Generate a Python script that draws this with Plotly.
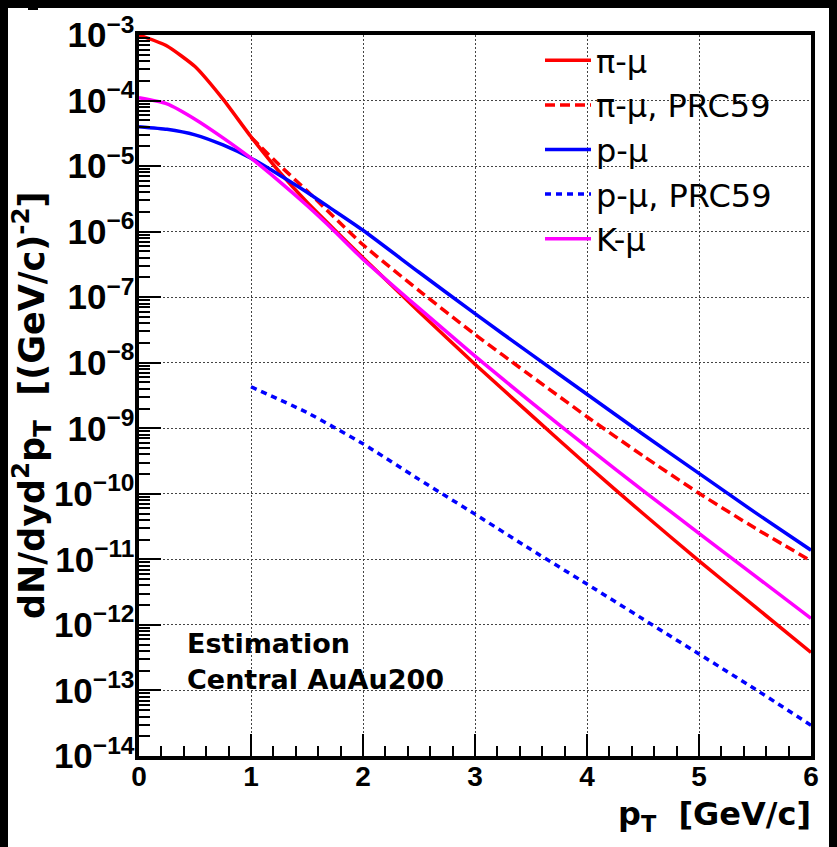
import plotly.graph_objects as go

# ---- data ----
pt_full = [0, 0.25, 0.5, 0.75, 1, 1.25, 1.5, 1.75, 2, 2.5, 3, 3.5, 4, 4.5, 5, 5.5, 6]
pi_mu = [1.0e-3, 6.8e-4, 3.3e-4, 1.05e-4, 2.8e-5, 8.3e-6, 2.8e-6, 1.05e-6, 4.0e-7,
         6.0e-8, 9.5e-9, 1.6e-9, 2.75e-10, 5.0e-11, 9.5e-12, 1.9e-12, 3.8e-13]
k_mu = [1.1e-4, 8.9e-5, 5.2e-5, 2.7e-5, 1.32e-5, 5.9e-6, 2.5e-6, 1.0e-6, 3.8e-7,
        6.8e-8, 1.26e-8, 2.5e-9, 5.2e-10, 1.12e-10, 2.5e-11, 5.6e-12, 1.26e-12]
p_mu = [4.0e-5, 3.65e-5, 3.0e-5, 2.1e-5, 1.32e-5, 7.4e-6, 4.0e-6, 2.05e-6, 1.05e-6,
        2.4e-7, 5.6e-8, 1.35e-8, 3.3e-9, 8.1e-10, 2.05e-10, 5.2e-11, 1.38e-11]

pt_prc_pi = [1, 1.25, 1.5, 2, 2.5, 3, 3.5, 4, 4.5, 5, 5.5, 6]
pi_mu_prc = [2.75e-5, 1.05e-5, 4.2e-6, 6.3e-7, 1.26e-7, 2.7e-8, 6.3e-9, 1.5e-9,
             3.8e-10, 1.02e-10, 3.0e-11, 9.5e-12]
pt_prc_p = [1, 1.5, 2, 2.5, 3, 3.5, 4, 4.5, 5, 5.5, 6]
p_mu_prc = [4.3e-9, 1.74e-9, 5.8e-10, 1.66e-10, 4.9e-11, 1.41e-11, 4.2e-12,
            1.23e-12, 3.6e-13, 1.05e-13, 2.95e-14]

x_ticks = [0, 1, 2, 3, 4, 5, 6]

# ---- figure geometry (page body adds an 8px margin) ----
OFF = 8
W, H = 837 - OFF, 847 - OFF
L, T = 139 - OFF, 35 - OFF
R = W - (811 - OFF)
B = H - (756 - OFF)
pw, ph = W - L - R, H - T - B


def px(rx):  # reference pixel x -> paper x
    return (rx - OFF - L) / pw


def py(ry):  # reference pixel y -> paper y
    return (H - B - (ry - OFF)) / ph


fig = go.Figure()
series = [
    ("π-μ", pt_full, pi_mu, "#ff0000", "solid"),
    ("π-μ, PRC59", pt_prc_pi, pi_mu_prc, "#ff0000", "10px,5px"),
    ("p-μ", pt_full, p_mu, "#0000ff", "solid"),
    ("p-μ, PRC59", pt_prc_p, p_mu_prc, "#0000ff", "6px,5px"),
    ("K-μ", pt_full, k_mu, "#ff00ff", "solid"),
]
for name, xs, ys, col, dash in series:
    fig.add_trace(go.Scatter(
        x=xs, y=ys, name=name, mode="lines",
        line=dict(color=col, width=3.5, dash=dash, shape="spline", smoothing=0.5),
    ))

tickfont = dict(family="Liberation Sans, Arial, sans-serif", size=28, color="black", weight="bold")
grid = dict(showgrid=True, gridcolor="#444444", gridwidth=1, griddash="2px,2px")

fig.update_xaxes(
    range=[0, 6], tickvals=x_ticks, ticks="inside", ticklen=22, tickwidth=2,
    tickcolor="black", showline=True, linewidth=4, linecolor="black", mirror=True,
    zeroline=False, tickfont=tickfont, ticklabelstandoff=-8,
    minor=dict(ticks="inside", ticklen=10, tickwidth=2, tickcolor="black", dtick=0.2, showgrid=False),
    **grid,
)
fig.update_yaxes(
    type="log", range=[-14, -3], dtick=1, exponentformat="power", showexponent="all",
    ticks="inside", ticklen=22, tickwidth=2, tickcolor="black",
    showline=True, linewidth=4, linecolor="black", mirror=True, zeroline=False,
    tickfont=tickfont, ticklabelstandoff=-5,
    minor=dict(ticks="inside", ticklen=11, tickwidth=1.5, tickcolor="black", dtick="D1", showgrid=False),
    **grid,
)

titlefont = dict(family="DejaVu Sans, sans-serif", size=35, color="black", weight="bold")
fig.add_annotation(
    text="dN/dyd<sup>2</sup>p<sub>T</sub>  [(GeV/c)<sup>-2</sup>]",
    xref="paper", yref="paper", x=px(31), y=py(405), textangle=-90,
    showarrow=False, font=titlefont, xanchor="center", yanchor="middle",
)
fig.add_annotation(
    text="p<sub>T</sub>  [GeV/c]", xref="paper", yref="paper", x=px(813), y=py(793),
    showarrow=False, font=dict(family="DejaVu Sans, sans-serif", size=32, color="black", weight="bold"),
    xanchor="right", yanchor="top",
)
labfont = dict(family="DejaVu Sans, sans-serif", size=27, color="black", weight="bold")
fig.add_annotation(text="Estimation", xref="paper", yref="paper", x=px(185), y=py(643),
                   showarrow=False, font=labfont, xanchor="left", yanchor="middle")
fig.add_annotation(text="Central AuAu200", xref="paper", yref="paper", x=px(185), y=py(679),
                   showarrow=False, font=labfont, xanchor="left", yanchor="middle")

# small remnant mark at the top-left of the original canvas
fig.add_shape(type="rect", xref="paper", yref="paper", x0=px(28), x1=px(38), y0=py(10), y1=py(8),
              fillcolor="black", line_width=0, layer="above")

fig.update_layout(
    width=W, height=H, margin=dict(l=L, r=R, t=T, b=B, autoexpand=False),
    paper_bgcolor="white", plot_bgcolor="white",
    showlegend=True,
    legend=dict(
        x=px(540), y=py(33), xanchor="left", yanchor="top",
        bgcolor="rgba(0,0,0,0)", borderwidth=0, itemwidth=46,
        font=dict(family="DejaVu Sans, sans-serif", size=32, color="black"),
    ),
)

# the original canvas shows a black band on the top and left edges
fig.write_html("out.html", post_script="document.body.style.background='black';")
